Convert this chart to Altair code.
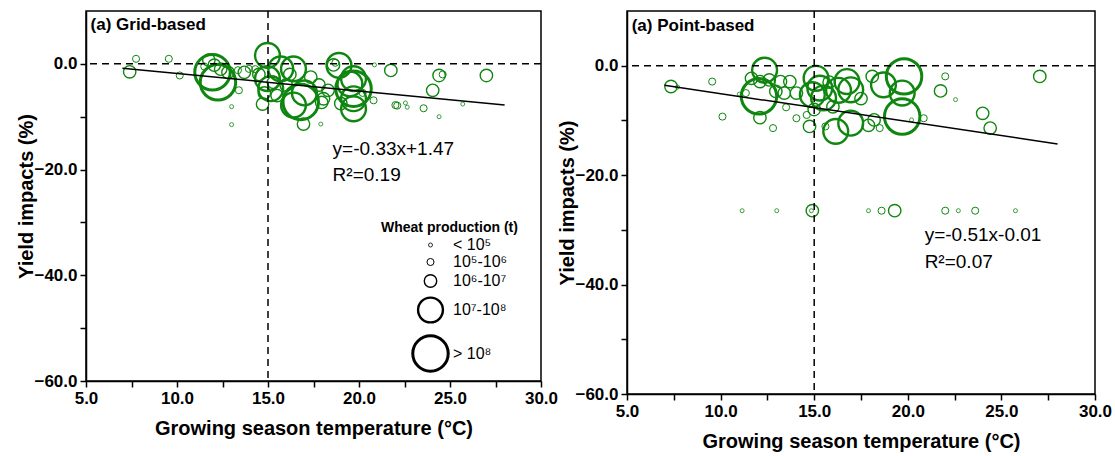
import altair as alt
import pandas as pd

# ---------------- data ----------------
classes = ["< 10⁵", "10⁵-10⁶", "10⁶-10⁷", "10⁷-10⁸", "> 10⁸"]
class_sizes = [16, 50, 154, 616, 1257]
class_strokes = [0.8, 1.0, 1.4, 2.4, 3.0]

grid_temp = [7.4, 7.75, 9.55, 10.15, 11.95, 12.25, 11.75, 12.05, 12.4, 12.8,
             11.5, 13.0, 13.0, 13.35, 13.7, 13.95, 14.5, 14.97, 14.97, 14.7,
             15.15, 15.7, 16.4, 16.4, 16.8, 16.95, 17.35, 18.05, 17.8, 18.9,
             18.6, 17.9, 19.7, 19.7, 19.7, 19.7, 19.5, 20.85, 20.8, 21.75,
             22.0, 22.1, 22.55, 22.65, 23.55, 24.05, 24.4, 24.4, 25.7, 27.0,
             15.3, 15.5, 14.8, 16.0, 17.0, 18.3, 19.0, 20.2, 17.95, 16.2,
             14.3, 13.4, 24.6, 18.7]
grid_impact = [-1.5, 0.95, 0.95, -2.2, -1.6, -3.5, 0.7, -0.25, -1.0, -1.6,
               -0.5, -8.1, -11.5, -1.2, -1.6, -0.95, -2.0, 1.6, -2.8, -7.6,
               -4.7, -0.95, -7.8, -0.95, -7.2, -11.4, -2.5, -6.6, -4.0, -0.3,
               -0.2, -11.4, -2.8, -4.7, -6.6, -8.5, -3.8, -0.2, -6.9, -1.25,
               -7.8, -7.9, -7.4, -8.2, -8.4, -5.0, -2.2, -10.0, -7.6, -2.2,
               -3.5, -6.0, -5.5, -4.0, -5.5, -5.0, -7.5, -5.5, -7.3, -2.0,
               -1.0, -5.0, -2.0, 0.2]
grid_class = [2, 1, 1, 1, 4, 4, 2, 2, 2, 2,
              1, 0, 0, 1, 2, 1, 2, 3, 3, 2,
              3, 3, 3, 3, 4, 2, 2, 2, 2, 3,
              2, 0, 3, 4, 3, 3, 3, 0, 1, 2,
              1, 1, 0, 0, 1, 2, 2, 0, 0, 2,
              2, 2, 2, 2, 3, 2, 2, 1, 2, 2,
              1, 1, 1, 1]

point_temp = [7.35, 7.7, 9.55, 10.1, 12.05, 12.35, 11.65, 12.1, 12.6, 13.2,
              13.7, 14.05, 12.95, 13.4, 12.1, 12.8, 14.05, 11.35, 11.0, 15.1,
              15.3, 14.9, 15.5, 14.75, 16.15, 15.6, 14.6, 16.95, 16.75, 16.95,
              16.3, 18.1, 18.7, 19.8, 19.7, 19.7, 20.2, 20.85, 18.2, 17.9,
              18.5, 21.75, 22.0, 22.55, 24.0, 24.4, 27.05, 15.8, 16.0, 17.5,
              13.5, 15.0,
              11.15, 13.0, 14.9, 14.85, 17.9, 18.6, 19.3, 22.0, 22.7, 23.6, 25.75]
point_impact = [-3.8, -3.9, -2.9, -9.3, -5.6, -0.8, -2.3, -2.9, -2.6, -2.9,
                -2.9, -5.0, -4.7, -5.0, -9.5, -11.4, -9.6, -5.0, -5.2, -2.3,
                -4.1, -5.3, -5.9, -11.1, -12.0, -11.1, -9.0, -4.4, -2.9, -10.5,
                -4.5, -1.95, -3.5, -1.95, -5.0, -9.3, -9.9, -9.6, -9.9, -10.9,
                -11.4, -4.6, -1.95, -6.2, -8.7, -11.4, -1.95, -3.0, -7.5, -6.0,
                -7.6, -8.0,
                -26.5, -26.5, -26.5, -26.5, -26.5, -26.5, -26.5, -26.5, -26.5, -26.5, -26.5]
point_class = [2, 0, 1, 1, 4, 3, 2, 2, 2, 2,
               2, 2, 2, 2, 2, 1, 1, 1, 0, 3,
               3, 3, 3, 2, 3, 1, 1, 3, 3, 3,
               3, 2, 3, 4, 3, 4, 0, 1, 2, 2,
               1, 2, 1, 0, 2, 2, 2, 2, 2, 2,
               1, 2,
               0, 0, 2, 0, 0, 1, 2, 1, 0, 1, 0]

grid_reg_x = [7.0, 28.0]
grid_reg_y = [-0.84, -7.77]
point_reg_x = [7.0, 28.0]
point_reg_y = [-3.58, -14.29]

grid_eq = ["y=-0.33x+1.47", "R²=0.19"]
grid_eq_x = [18.55, 18.55]
grid_eq_y = [-16.1, -21.1]
point_eq = ["y=-0.51x-0.01", "R²=0.07"]
point_eq_x = [20.9, 20.9]
point_eq_y = [-31.0, -35.9]

panel_titles = ["(a) Grid-based", "(a) Point-based"]
title_x = [5.25, 5.25]
title_y = [7.3, 7.2]

x_ticks = [5 + 2.5 * i for i in range(11)]
y_ticks = [-60, -50, -40, -30, -20, -10, 0]

GREEN = "#0f860f"
FONT = "Liberation Sans"


def panel(temp, impact, cls, reg_x, reg_y, eq_t, eq_x, eq_y, ptitle, tx, ty,
          w, h, with_legend):
    xs = alt.Scale(domain=[5, 30], nice=False, zero=False)
    ys = alt.Scale(domain=[-60, 10], nice=False, zero=False)
    common = dict(labelFontSize=17, labelFontWeight="bold", labelColor="black",
                  titleFontSize=20, titleFontWeight="bold", titleColor="black",
                  tickSize=6, tickWidth=1.5, tickColor="black", labelPadding=3,
                  grid=False, domainColor="black", domainWidth=1.5,
                  labelOverlap=False, labelFlush=False)
    xaxis = alt.Axis(
        title="Growing season temperature (°C)", values=x_ticks,
        labelExpr="datum.value % 5 == 0 ? format(datum.value, '.1f') : ''",
        titlePadding=12, **common)
    yaxis = alt.Axis(
        title="Yield impacts (%)", values=y_ticks,
        labelExpr="datum.value % 20 == 0 ? format(datum.value, '.1f') : ''",
        titlePadding=-3, **common)

    def X(f):
        return alt.X(f, scale=xs, axis=xaxis)

    def Y(f):
        return alt.Y(f, scale=ys, axis=yaxis)

    labels = [classes[c] for c in cls]
    df = pd.DataFrame({"temp": temp, "impact": impact,
                       "production": labels, "production_w": labels})
    if with_legend:
        legend = alt.Legend(
            title="Wheat production (t)", orient="none", legendX=295,
            legendY=210, titleFontSize=14, titleFontWeight="bold",
            titleColor="black", titleFont=FONT, titlePadding=2,
            labelFontSize=16, labelColor="black", labelFont=FONT,
            symbolStrokeColor="black", symbolStrokeWidth=1.2,
            symbolType="circle", symbolOffset=30, labelOffset=3,
            rowPadding=1, padding=0)
    else:
        legend = None
    points = alt.Chart(df).mark_point(shape="circle", filled=False,
                                      color=GREEN, opacity=1).encode(
        x=X("temp:Q"),
        y=Y("impact:Q"),
        size=alt.Size("production:N",
                      scale=alt.Scale(type="ordinal", domain=classes, range=class_sizes),
                      legend=legend),
        strokeWidth=alt.StrokeWidth("production_w:N",
                                    scale=alt.Scale(type="ordinal", domain=classes,
                                                    range=class_strokes),
                                    legend=None),
    )
    vrule = alt.Chart(pd.DataFrame({"temp": [15]})).mark_rule(
        color="black", strokeWidth=1.5, strokeDash=[7, 5]).encode(x=X("temp:Q"))
    hrule = alt.Chart(pd.DataFrame({"impact": [0]})).mark_rule(
        color="black", strokeWidth=1.5, strokeDash=[7, 5]).encode(y=Y("impact:Q"))
    reg = alt.Chart(pd.DataFrame({"temp": reg_x, "impact": reg_y})).mark_line(
        color="black", strokeWidth=1.5).encode(x=X("temp:Q"), y=Y("impact:Q"))
    eq = alt.Chart(pd.DataFrame({"temp": eq_x, "impact": eq_y, "t": eq_t})).mark_text(
        align="left", baseline="middle", fontSize=19, font=FONT,
        color="black").encode(x=X("temp:Q"), y=Y("impact:Q"), text="t:N")
    ttl = alt.Chart(pd.DataFrame({"temp": [tx], "impact": [ty], "t": [ptitle]})).mark_text(
        align="left", baseline="middle", fontSize=17, fontWeight="bold",
        font=FONT, color="black").encode(x=X("temp:Q"), y=Y("impact:Q"), text="t:N")
    return alt.layer(points, vrule, hrule, reg, eq, ttl).properties(width=w, height=h)


left = panel(grid_temp, grid_impact, grid_class, grid_reg_x, grid_reg_y,
             grid_eq, grid_eq_x, grid_eq_y, panel_titles[0], title_x[0], title_y[0],
             455, 370, True)
right = panel(point_temp, point_impact, point_class, point_reg_x, point_reg_y,
              point_eq, point_eq_x, point_eq_y, panel_titles[1], title_x[1], title_y[1],
              468, 383, False)

chart = alt.hconcat(left, right, spacing=86, bounds="flush").resolve_scale(
    size="independent", strokeWidth="independent"
).resolve_legend(size="independent").properties(
    padding={"left": 16, "top": 9, "right": 0, "bottom": 0}
).configure(font=FONT).configure_view(stroke="black", strokeWidth=1.5)

chart.save("out.html", embed_options={"renderer": "svg", "actions": False})
